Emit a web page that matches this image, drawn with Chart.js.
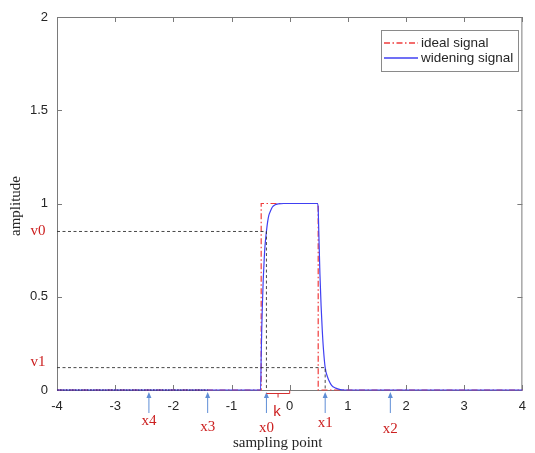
<!DOCTYPE html>
<html>
<head>
<meta charset="utf-8">
<script src="https://cdn.jsdelivr.net/npm/chart.js@4.4.1/dist/chart.umd.min.js"></script>
<style>
  html, body { margin: 0; padding: 0; background: #fff; }
  canvas { display: block; }
</style>
</head>
<body>
<canvas id="grafico" width="535" height="453"></canvas>
<script>
// ---- data ----
const idealX = [-4, -0.49, -0.49, 0.49, 0.49, 4];
const idealY = [0, 0, 1, 1, 0, 0];

const wideX = [-4, -0.5, -0.49, -0.48, -0.47, -0.455, -0.44, -0.425, -0.4, -0.38, -0.36, -0.33, -0.3, -0.25, -0.2, -0.1,
               0.48, 0.49, 0.5, 0.52, 0.54, 0.56, 0.58, 0.61, 0.65, 0.67, 0.72, 0.79, 0.87, 0.95, 4];
const wideY = [0, 0, 0.18, 0.33, 0.45, 0.59, 0.69, 0.77, 0.85, 0.9, 0.935, 0.96, 0.98, 0.993, 0.998, 1,
               1, 0.97, 0.85, 0.62, 0.45, 0.32, 0.22, 0.12, 0.07, 0.054, 0.025, 0.01, 0.002, 0, 0];

const sampleNames = ['x4', 'x3', 'x0', 'x1', 'x2'];
const sampleX = [-2.42, -1.41, -0.4, 0.61, 1.73];
const levelNames = ['v0', 'v1'];
const levelY = [0.85, 0.12];

const xTicks = [-4, -3, -2, -1, 0, 1, 2, 3, 4];
const yTicks = [0, 0.5, 1, 1.5, 2];

const legendNames = ['ideal signal', 'widening signal'];

// layout only (pixels below the axis for the red sample labels)
const sampleLabelOffset = [31, 37, 38, 33, 39];

const BLUE = '#4040f2';
const RED = '#f03c3c';
const RED_DASH = [6, 2.5, 1.5, 2.5];

const pts = (xs, ys) => xs.map((v, i) => ({ x: v, y: ys[i] }));

const x0 = sampleX[2], x1 = sampleX[3], x3 = sampleX[1];

// ---- decorations: frame, inner ticks, labels, arrows, legend ----
const decor = {
  id: 'decor',
  beforeDatasetsDraw(chart) {
    const { ctx, chartArea: a, scales: { x, y } } = chart;
    ctx.save();
    ctx.strokeStyle = '#7a7a7a';
    ctx.lineWidth = 1;
    ctx.strokeRect(a.left + 0.5, a.top + 0.5, a.right - a.left - 1, a.bottom - a.top);
    ctx.beginPath();
    xTicks.forEach(v => {
      const px = Math.round(x.getPixelForValue(v)) + 0.5;
      ctx.moveTo(px, a.bottom); ctx.lineTo(px, a.bottom - 5);
      ctx.moveTo(px, a.top); ctx.lineTo(px, a.top + 5);
    });
    yTicks.forEach(v => {
      const py = Math.round(y.getPixelForValue(v)) + 0.5;
      ctx.moveTo(a.left, py); ctx.lineTo(a.left + 5, py);
      ctx.moveTo(a.right, py); ctx.lineTo(a.right - 5, py);
    });
    ctx.stroke();
    ctx.restore();
  },
  afterDatasetsDraw(chart) {
    const { ctx, chartArea: a, scales: { x, y } } = chart;
    ctx.save();

    // blue arrows + red names under the axis
    sampleX.forEach((v, i) => {
      const px = x.getPixelForValue(v);
      ctx.strokeStyle = '#5f8ed6';
      ctx.fillStyle = '#5f8ed6';
      ctx.lineWidth = 1;
      ctx.beginPath();
      ctx.moveTo(px, a.bottom + 5); ctx.lineTo(px, a.bottom + 23);
      ctx.stroke();
      ctx.beginPath();
      ctx.moveTo(px, a.bottom + 2); ctx.lineTo(px - 2.5, a.bottom + 8); ctx.lineTo(px + 2.5, a.bottom + 8);
      ctx.closePath(); ctx.fill();

      ctx.fillStyle = '#cc2020';
      ctx.font = '15px "Liberation Serif"';
      ctx.textAlign = 'center';
      ctx.textBaseline = 'middle';
      ctx.fillText(sampleNames[i], px, a.bottom + sampleLabelOffset[i]);
    });

    // k bracket between x0 and 0
    const kl = x.getPixelForValue(x0), kr = x.getPixelForValue(0);
    const ky = a.bottom + 3.5;
    ctx.strokeStyle = '#d43030';
    ctx.lineWidth = 1;
    ctx.beginPath();
    ctx.moveTo(kl, ky); ctx.lineTo(kr, ky);
    ctx.moveTo(kr, ky); ctx.lineTo(kr, ky - 3);
    ctx.moveTo((kl + kr) / 2, ky); ctx.lineTo((kl + kr) / 2, ky + 4);
    ctx.stroke();
    ctx.fillStyle = '#cc2020';
    ctx.font = '15px "Liberation Sans"';
    ctx.textAlign = 'center';
    ctx.textBaseline = 'middle';
    ctx.fillText('k', (kl + kr) / 2 - 1, a.bottom + 22);

    // v0 / v1 names left of the axis
    ctx.font = '15px "Liberation Serif"';
    levelY.forEach((v, i) => {
      ctx.fillText(levelNames[i], 38, y.getPixelForValue(v) - (i === 1 ? 6 : 0));
    });

    // axis titles
    ctx.fillStyle = '#262626';
    ctx.font = '15px "Liberation Serif"';
    ctx.fillText('sampling point', (a.left + a.right) / 2 - 12, 443);
    ctx.save();
    ctx.translate(16, 206);
    ctx.rotate(-Math.PI / 2);
    ctx.fillText('amplitude', 0, 0);
    ctx.restore();

    // legend
    const lx = 381, ly = 30, lw = 137, lh = 41;
    ctx.fillStyle = '#ffffff';
    ctx.fillRect(lx, ly, lw, lh);
    ctx.strokeStyle = '#8a8a8a';
    ctx.lineWidth = 1;
    ctx.strokeRect(lx + 0.5, ly + 0.5, lw, lh);
    const styles = [{ c: RED, dash: RED_DASH }, { c: BLUE, dash: [] }];
    legendNames.forEach((name, i) => {
      const yy = ly + 13 + i * 15;
      ctx.setLineDash(styles[i].dash);
      ctx.strokeStyle = styles[i].c;
      ctx.lineWidth = 1.4;
      ctx.beginPath();
      ctx.moveTo(lx + 3, yy); ctx.lineTo(lx + 37, yy);
      ctx.stroke();
      ctx.setLineDash([]);
      ctx.fillStyle = '#262626';
      ctx.font = '13.5px "Liberation Sans"';
      ctx.textAlign = 'left';
      ctx.textBaseline = 'middle';
      ctx.fillText(name, lx + 40, yy + 0.5);
    });
    ctx.restore();
  }
};

new Chart(document.getElementById('grafico'), {
  type: 'scatter',
  data: {
    datasets: [
      {
        label: legendNames[1],
        data: pts(wideX, wideY),
        showLine: true,
        borderColor: BLUE,
        borderWidth: 1.2,
        pointRadius: 0,
        cubicInterpolationMode: 'monotone',
        clip: 4,
        order: 1
      },
      {
        label: legendNames[0],
        data: pts(idealX, idealY),
        showLine: true,
        borderColor: RED,
        borderWidth: 1.2,
        borderDash: RED_DASH,
        pointRadius: 0,
        clip: 4,
        order: 2
      },
      {
        label: 'v0 guide',
        data: pts([-4, x0, x0], [levelY[0], levelY[0], 0]),
        showLine: true,
        borderColor: '#333',
        borderWidth: 0.9,
        borderDash: [3, 2.5],
        pointRadius: 0,
        order: 0
      },
      {
        label: 'v1 guide',
        data: pts([-4, x1, x1], [levelY[1], levelY[1], 0]),
        showLine: true,
        borderColor: '#333',
        borderWidth: 0.9,
        borderDash: [3, 2.5],
        pointRadius: 0,
        order: 0
      },
      {
        label: 'zero dots',
        data: pts([-4, x3], [0, 0]),
        showLine: true,
        borderColor: '#22226a',
        borderWidth: 1,
        borderDash: [1.5, 1.5],
        pointRadius: 0,
        clip: 4,
        order: 0
      }
    ]
  },
  options: {
    responsive: false,
    animation: false,
    layout: { padding: { top: 17, right: 5, left: 0, bottom: 0 } },
    plugins: { legend: { display: false }, tooltip: { enabled: false } },
    scales: {
      x: {
        type: 'linear',
        min: -4, max: 4,
        afterBuildTicks: s => { s.ticks = xTicks.map(v => ({ value: v })); },
        afterFit: s => { s.height = 63; },
        grid: { display: false, drawTicks: false },
        border: { display: false },
        ticks: { color: '#262626', font: { family: 'Liberation Sans', size: 13 }, padding: 9, maxRotation: 0,
                 callback: v => String(v) }
      },
      y: {
        min: 0, max: 2,
        afterBuildTicks: s => { s.ticks = yTicks.map(v => ({ value: v })); },
        afterFit: s => { s.width = 57; },
        grid: { display: false, drawTicks: false },
        border: { display: false },
        ticks: { color: '#262626', font: { family: 'Liberation Sans', size: 13 }, padding: 9,
                 callback: v => String(v) }
      }
    }
  },
  plugins: [decor]
});
</script>
</body>
</html>
